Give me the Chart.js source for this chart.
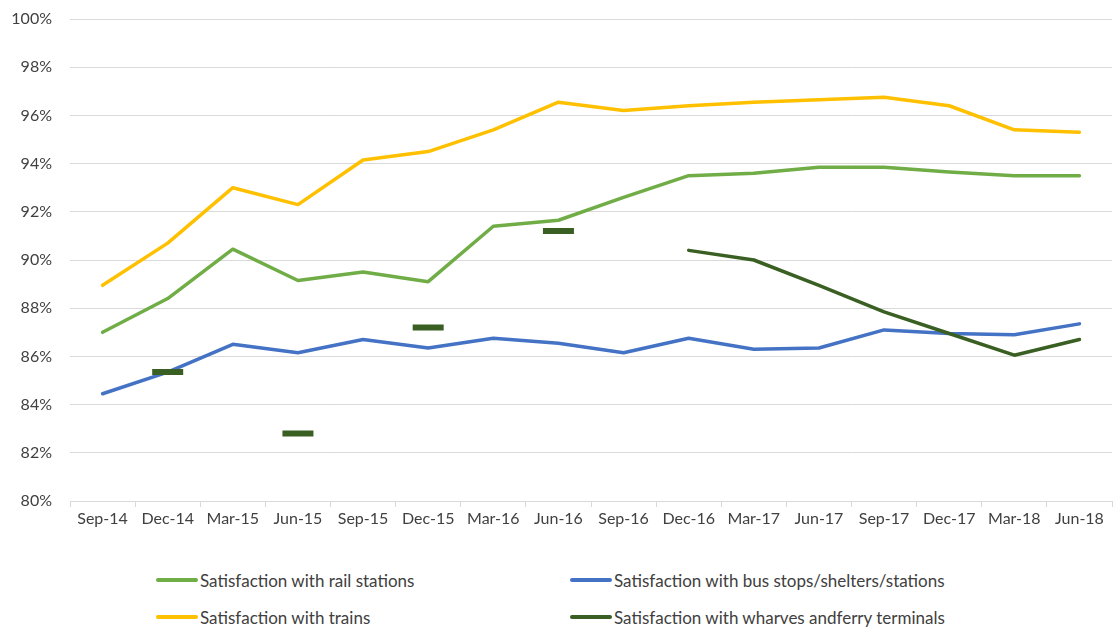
<!DOCTYPE html>
<html>
<head>
<meta charset="utf-8">
<script src="https://cdn.jsdelivr.net/npm/chart.js@4.4.1/dist/chart.umd.min.js"></script>
<style>
  body { margin: 0; background: #fff; }
  #wrap { position: relative; width: 1115px; height: 628px; }
  #legend {
    position: absolute; left: 156px; top: 568px;
    display: grid; grid-template-columns: 414px 420px; row-gap: 13px;
    font: 17px Lato, sans-serif; color: #404040;
  }
  #legend .item { display: flex; align-items: center; height: 24px; white-space: nowrap; }
  #legend .swatch { width: 42px; height: 4px; border-radius: 2px; margin-right: 2px; }
</style>
</head>
<body>
<div id="wrap">
  <canvas id="chart" width="1115" height="545"></canvas>
  <div id="legend"></div>
</div>
<script>
  const quarters = ['Sep-14', 'Dec-14', 'Mar-15', 'Jun-15', 'Sep-15', 'Dec-15', 'Mar-16', 'Jun-16',
                    'Sep-16', 'Dec-16', 'Mar-17', 'Jun-17', 'Sep-17', 'Dec-17', 'Mar-18', 'Jun-18'];

  // satisfaction, percent
  const railStations = [87.0, 88.4, 90.45, 89.15, 89.5, 89.1, 91.4, 91.65, 92.6, 93.5, 93.6, 93.85, 93.85, 93.65, 93.5, 93.5];
  const busStops = [84.45, 85.35, 86.5, 86.15, 86.7, 86.35, 86.75, 86.55, 86.15, 86.75, 86.3, 86.35, 87.1, 86.95, 86.9, 87.35];
  const trains = [88.95, 90.7, 93.0, 92.3, 94.15, 94.5, 95.4, 96.55, 96.2, 96.4, 96.55, 96.65, 96.75, 96.4, 95.4, 95.3];
  const wharves = [null, 85.35, null, 82.8, null, 87.2, null, 91.2, null, 90.4, 90.0, 88.95, 87.85, 86.95, 86.05, 86.7];

  const yTicks = { min: 80, max: 100, step: 2 };

  const textColor = '#404040';
  const gridColor = '#d9d9d9';

  // lone points (no neighbour on either side) get a short dash marker
  function loneRadius(ctx) {
    const d = ctx.dataset.data;
    const i = ctx.dataIndex;
    if (d[i] == null) return 0;
    const prev = i > 0 ? d[i - 1] : null;
    const next = i < d.length - 1 ? d[i + 1] : null;
    return (prev == null && next == null) ? 15.5 : 0;
  }

  function series(label, data, color, order) {
    return {
      label: label,
      data: data,
      borderColor: color,
      backgroundColor: color,
      borderWidth: 3.5,
      borderCapStyle: 'round',
      borderJoinStyle: 'round',
      tension: 0,
      spanGaps: false,
      pointStyle: 'line',
      pointRadius: loneRadius,
      pointHoverRadius: loneRadius,
      pointBorderWidth: 6,
      pointBorderColor: color,
      order: order
    };
  }

  const chart = new Chart(document.getElementById('chart'), {
    type: 'line',
    data: {
      labels: quarters,
      datasets: [
        series('Satisfaction with rail stations', railStations, '#70ad47', 2),
        series('Satisfaction with bus stops/shelters/stations', busStops, '#4472c4', 3),
        series('Satisfaction with trains', trains, '#ffc000', 1),
        series('Satisfaction with wharves andferry terminals', wharves, '#3a5f22', 0)
      ]
    },
    options: {
      responsive: false,
      devicePixelRatio: 1,
      animation: false,
      layout: { padding: { top: 19, right: 3, left: 0, bottom: 0 } },
      plugins: {
        legend: { display: false },
        tooltip: { enabled: false }
      },
      scales: {
        x: {
          offset: true,
          grid: {
            offset: true,
            drawOnChartArea: false,
            drawTicks: true,
            tickLength: 6,
            color: gridColor
          },
          border: { color: gridColor },
          ticks: {
            color: textColor,
            font: { family: 'Lato', size: 16 },
            padding: 2,
            maxRotation: 0,
            autoSkip: false
          },
          afterFit: function(scale) { scale.height = 44; }
        },
        y: {
          min: yTicks.min,
          max: yTicks.max,
          grid: { color: gridColor, drawTicks: false },
          border: { display: false },
          ticks: {
            stepSize: yTicks.step,
            color: textColor,
            font: { family: 'Lato', size: 16 },
            padding: 18,
            callback: function(v) { return v + '%'; }
          },
          afterFit: function(scale) {
            scale.width = 70;
            scale.paddingTop = 0;
            scale.paddingBottom = 0;
          }
        }
      }
    }
  });

  // two-column legend built from the chart's datasets
  const legend = document.getElementById('legend');
  chart.data.datasets.forEach(function(ds) {
    const item = document.createElement('div');
    item.className = 'item';
    const sw = document.createElement('span');
    sw.className = 'swatch';
    sw.style.background = ds.borderColor;
    const txt = document.createElement('span');
    txt.textContent = ds.label;
    item.appendChild(sw);
    item.appendChild(txt);
    legend.appendChild(item);
  });
</script>
</body>
</html>
